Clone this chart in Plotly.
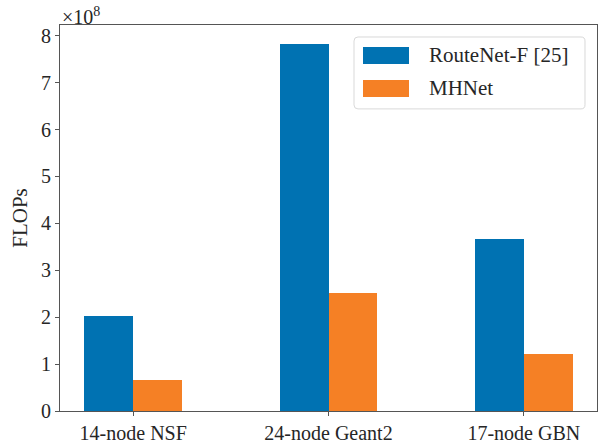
import re
import plotly.graph_objects as go

# FLOPs per model on each topology, in units of 1e8
topologies = ["14-node NSF", "24-node Geant2", "17-node GBN"]
routenet_f = [2.03, 7.83, 3.67]
mhnet = [0.67, 2.52, 1.22]
series_names = ["RouteNet-F [25]", "MHNet"]
series_colors = ["#0072B2", "#F58025"]
y_ticks = [0, 1, 2, 3, 4, 5, 6, 7, 8]

W, H = 602, 443
ML, MR, MT, MB = 60, 5, 25, 31.5
PW, PH = W - ML - MR, H - MT - MB

FONT = "Liberation Serif"
TXT = "#262626"
bar_w = 0.25
pos = list(range(len(topologies)))

fig = go.Figure()
for vals, name, col, shift in [(routenet_f, series_names[0], series_colors[0], -bar_w / 2),
                               (mhnet, series_names[1], series_colors[1], bar_w / 2)]:
    fig.add_trace(go.Bar(
        x=[p + shift for p in pos], y=vals, width=bar_w, name=name,
        marker=dict(color=col, line=dict(width=0)), showlegend=False,
    ))


def px_x(px):
    return (px - ML) / PW


def px_y(py):
    return (H - MB - py) / PH


# legend frame with rounded corners (pixel path converted to axis-domain fractions)
x0, x1, y0, y1, r = 354, 585, 37, 109, 4
path = (f"M {x0 + r},{y0} L {x1 - r},{y0} Q {x1},{y0} {x1},{y0 + r} "
        f"L {x1},{y1 - r} Q {x1},{y1} {x1 - r},{y1} L {x0 + r},{y1} "
        f"Q {x0},{y1} {x0},{y1 - r} L {x0},{y0 + r} Q {x0},{y0} {x0 + r},{y0} Z")


def conv(m):
    a, b = float(m.group(1)), float(m.group(2))
    return f"{px_x(a):.5f},{px_y(b):.5f}"


fig.add_shape(type="path", path=re.sub(r"([\d.]+),([\d.]+)", conv, path),
              xref="x domain", yref="y domain",
              line=dict(color="#d9d9d9", width=1), fillcolor="rgba(255,255,255,0.8)",
              layer="above")

for i, (name, col) in enumerate(zip(series_names, series_colors)):
    sy0 = 47 + i * 33
    fig.add_shape(type="rect", xref="x domain", yref="y domain",
                  x0=px_x(363), x1=px_x(409), y0=px_y(sy0 + 17), y1=px_y(sy0),
                  fillcolor=col, line=dict(width=0), layer="above")
    fig.add_annotation(text=name, xref="x domain", yref="y domain",
                       x=px_x(427), y=px_y(sy0 + 8.5), xanchor="left", yanchor="middle",
                       showarrow=False, font=dict(family=FONT, size=21, color=TXT))

# scale factor above the y axis
fig.add_annotation(text="×10<sup>8</sup>", xref="paper", yref="paper",
                   x=px_x(60), y=1.0, xanchor="left", yanchor="bottom", yshift=-5,
                   showarrow=False, font=dict(family=FONT, size=20, color=TXT))

axis_common = dict(showline=True, linecolor="#555", linewidth=1, mirror=True,
                   ticks="outside", ticklen=4, tickwidth=1, tickcolor="#555",
                   showgrid=False, zeroline=False, automargin=False,
                   tickfont=dict(family=FONT, size=20, color=TXT))

fig.update_layout(
    width=W, height=H,
    margin=dict(l=ML, r=MR, t=MT, b=MB),
    paper_bgcolor="white", plot_bgcolor="white",
    bargap=0,
    xaxis=dict(range=[-0.375, 2.375], tickvals=pos, ticktext=topologies, **axis_common),
    yaxis=dict(range=[0, 8.23], tickvals=y_ticks, ticktext=[str(t) for t in y_ticks],
               title=dict(text="FLOPs", font=dict(family=FONT, size=21, color=TXT), standoff=7),
               **axis_common),
)

fig.write_html("out.html")
